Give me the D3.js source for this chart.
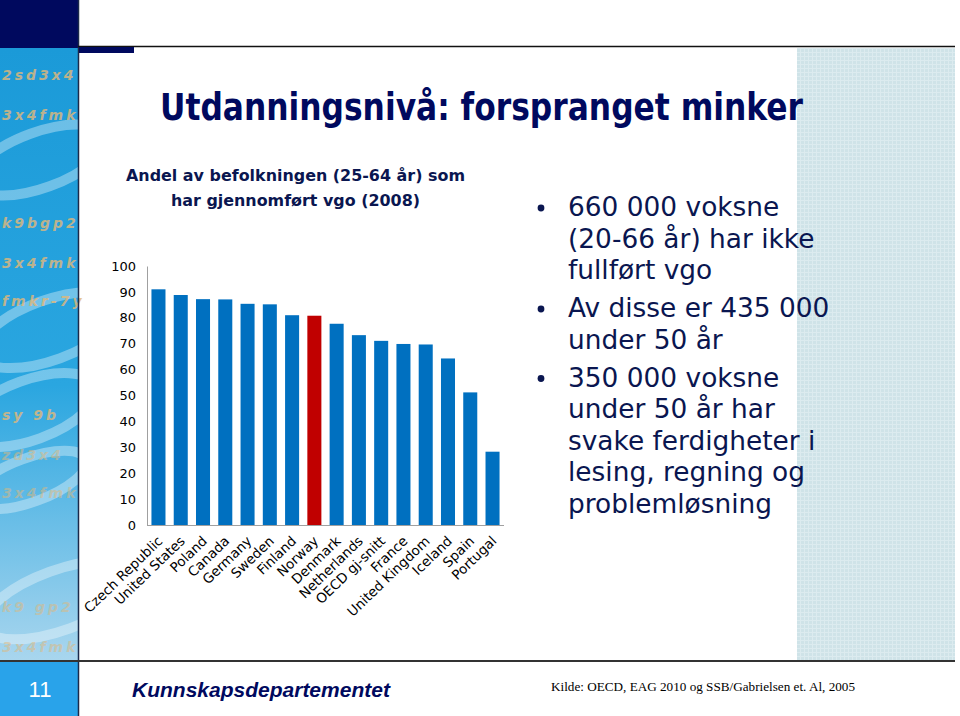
<!DOCTYPE html>
<html><head><meta charset="utf-8">
<script src="https://cdn.jsdelivr.net/npm/d3@7"></script>
<style>body{margin:0;background:#fff}svg{display:block}</style>
</head><body>
<script>
const categories = ["Czech Republic","United States","Poland","Canada","Germany","Sweden","Finland","Norway","Denmark","Netherlands","OECD gj-snitt","France","United Kingdom","Iceland","Spain","Portugal"];
const values = [91.0,88.8,87.2,87.1,85.4,85.2,81.0,80.8,77.7,73.3,71.1,69.9,69.7,64.3,51.2,28.3];
const highlight = ["Norway"];
const yTicks = [0,10,20,30,40,50,60,70,80,90,100];
const title = "Utdanningsnivå: forspranget minker";
const subtitle = ["Andel av befolkningen (25-64 år) som","har gjennomført vgo (2008)"];
const bullets = [["660 000 voksne","(20-66 år) har ikke","fullført vgo"],["Av disse er 435 000","under 50 år"],["350 000 voksne","under 50 år har","svake ferdigheter i","lesing, regning og","problemløsning"]];
const sideText = ["2sd3x4","3x4fmk","k9bgp2","3x4fmk","fmkr-7y","sy  9b","zd3x4","3x4fmk","k9 gp2","3x4fmk"];

const W=960,H=716;
const svg=d3.select("body").append("svg").attr("width",W).attr("height",H);
const defs=svg.append("defs");
const g1=defs.append("linearGradient").attr("id","side").attr("x1",0).attr("y1",0).attr("x2",0).attr("y2",1);
g1.append("stop").attr("offset","0").attr("stop-color","#1b9ad8");
g1.append("stop").attr("offset","0.55").attr("stop-color","#2aa6e0");
g1.append("stop").attr("offset","1").attr("stop-color","#a9d6ee");
const pat=defs.append("pattern").attr("id","grid").attr("width",4).attr("height",4).attr("patternUnits","userSpaceOnUse");
pat.append("rect").attr("width",4).attr("height",4).attr("fill","#cfe3e8");
pat.append("path").attr("d","M0,0.5H4M0.5,0V4").attr("stroke","#dcebef").attr("stroke-width",1);

// sidebar
svg.append("rect").attr("x",0).attr("y",48).attr("width",78).attr("height",613).attr("fill","url(#side)");
[[40,160,70,28],[50,330,75,30],[30,410,70,30],[60,600,80,30],[30,480,60,22]].forEach(e=>{
  svg.append("ellipse").attr("cx",e[0]).attr("cy",e[1]).attr("rx",e[2]).attr("ry",e[3]).attr("transform",`rotate(-20 ${e[0]} ${e[1]})`)
   .attr("fill","none").attr("stroke","rgba(255,255,255,0.35)").attr("stroke-width",10);
});
const sideY=[80,120,228,268,306,420,460,498,612,652];
sideText.forEach((t,i)=>svg.append("text").attr("x",2).attr("y",sideY[i]).text(t)
  .attr("font-family","DejaVu Sans").attr("font-weight","bold").attr("font-style","italic").attr("font-size",14)
  .attr("letter-spacing",3).attr("fill","#e2b87a").attr("opacity",i>5?0.5:0.8));
svg.append("rect").attr("x",0).attr("y",0).attr("width",78).attr("height",48).attr("fill","#00095e");
svg.append("rect").attr("x",0).attr("y",662).attr("width",78).attr("height",54).attr("fill","#29a3ea");
svg.append("line").attr("x1",78.5).attr("x2",78.5).attr("y1",0).attr("y2",716).attr("stroke","#1b2a4a").attr("stroke-width",1.5);
// top line and bar
svg.append("line").attr("x1",78).attr("x2",955).attr("y1",46.5).attr("y2",46.5).attr("stroke","#111").attr("stroke-width",1.5);
svg.append("rect").attr("x",79).attr("y",47).attr("width",55).attr("height",6).attr("fill","#00095e");
// right panel
svg.append("rect").attr("x",797).attr("y",48).attr("width",158).attr("height",613).attr("fill","url(#grid)");
// footer line
svg.append("line").attr("x1",0).attr("x2",955).attr("y1",661).attr("y2",661).attr("stroke","#333").attr("stroke-width",2);
svg.append("text").attr("x",40).attr("y",697).attr("text-anchor","middle").text("11")
  .attr("font-family","Liberation Sans").attr("font-size",22).attr("fill","#fff");
svg.append("text").attr("x",132).attr("y",697).text("Kunnskapsdepartementet")
  .attr("font-family","Liberation Sans").attr("font-weight","bold").attr("font-style","italic").attr("font-size",21).attr("fill","#00095e");
svg.append("text").attr("x",551).attr("y",691).text("Kilde: OECD, EAG 2010 og SSB/Gabrielsen et. Al, 2005")
  .attr("font-family","Liberation Serif").attr("font-size",13.5).attr("fill","#000").attr("textLength",304).attr("lengthAdjust","spacingAndGlyphs");

// title
svg.append("text").attr("x",160).attr("y",120).text(title)
  .attr("font-family","DejaVu Sans").attr("font-weight","bold").attr("font-size",37).attr("fill","#00095e")
  .attr("textLength",643).attr("lengthAdjust","spacingAndGlyphs");
svg.append("text").attr("x",126).attr("y",181).text(subtitle[0])
  .attr("font-family","DejaVu Sans").attr("font-weight","bold").attr("font-size",15).attr("fill","#0a1650")
  .attr("textLength",339).attr("lengthAdjust","spacingAndGlyphs");
svg.append("text").attr("x",171).attr("y",206).text(subtitle[1])
  .attr("font-family","DejaVu Sans").attr("font-weight","bold").attr("font-size",15).attr("fill","#0a1650")
  .attr("textLength",249).attr("lengthAdjust","spacingAndGlyphs");

// chart
const x=d3.scaleBand().domain(categories).range([147,504]).paddingInner(0.37).paddingOuter(0.2);
const y=d3.scaleLinear().domain([0,100]).range([525,266]);
const ch=svg.append("g");
ch.selectAll("rect.bar").data(categories).join("rect").attr("class","bar")
  .attr("x",d=>x(d)).attr("width",x.bandwidth())
  .attr("y",(d,i)=>y(values[i])).attr("height",(d,i)=>y(0)-y(values[i]))
  .attr("fill",d=>highlight.includes(d)?"#c00000":"#0070c0");
const ya=ch.append("g").attr("transform","translate(147,0)").call(d3.axisLeft(y).tickValues(yTicks).tickSize(0).tickPadding(11));
ya.select(".domain").attr("stroke","#a0a0a0");
ya.selectAll("text").attr("font-family","DejaVu Sans").attr("font-size",13).attr("fill","#000");
const xa=ch.append("g").attr("transform","translate(0,525)").call(d3.axisBottom(x).tickSize(0).tickPadding(0));
xa.select(".domain").attr("stroke","#a0a0a0").attr("d","M147,0.5H504");
xa.selectAll("text").attr("font-family","DejaVu Sans").attr("font-size",13.5).attr("fill","#000")
  .attr("text-anchor","end").attr("dy",0).attr("transform","translate(5,17) rotate(-44)");

// bullets
const bx=541, tx=568; let ly=216;
bullets.forEach((b,bi)=>{
  svg.append("circle").attr("cx",bx).attr("cy",ly-8).attr("r",3.4).attr("fill","#0a1650");
  b.forEach((line,li)=>{
    svg.append("text").attr("x",tx).attr("y",ly).text(line)
      .attr("font-family","DejaVu Sans").attr("font-size",26.4).attr("fill","#0a1650");
    if(li<b.length-1) ly+=31.5;
  });
  ly+=38;
});
</script>
</body></html>
